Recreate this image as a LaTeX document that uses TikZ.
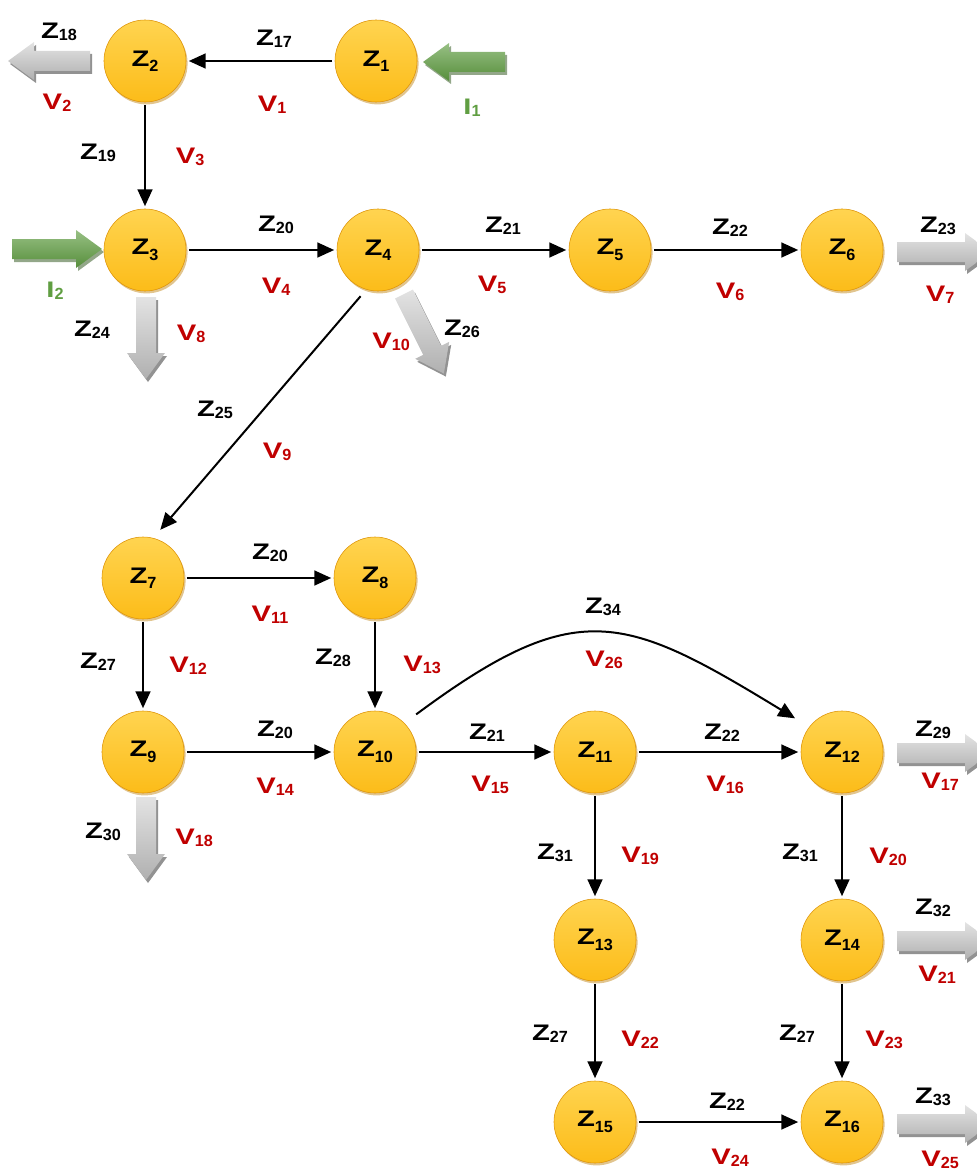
\documentclass[tikz,border=0pt]{standalone}
\usepackage{fontspec}
\setmainfont{Liberation Sans}
\usepackage{graphicx}
\usetikzlibrary{arrows.meta, positioning, shadows}

\definecolor{zgold}{RGB}{252,188,25}
\definecolor{zgoldlight}{RGB}{255,212,80}
\definecolor{zgolddark}{RGB}{222,148,8}
\definecolor{vred}{RGB}{192,0,0}
\definecolor{igreen}{RGB}{96,158,66}

% stretched letter with a lowered index
\newcommand{\lbl}[2]{\scalebox{1.3}[1]{#1}\raisebox{-0.2ex}{\fontsize{11.5}{11.5}\selectfont #2}}
\newcommand{\nlbl}[2]{\scalebox{1.3}[1]{#1}\raisebox{-0.45ex}{\fontsize{11.5}{11.5}\selectfont #2}}

% block arrow: style, tail point, angle, length (in px units)
\newcommand{\blockarrow}[4]{%
  \begin{scope}[shift={#2}, shift={(2,3)}, rotate=#3]
    \fill[#1 shadow] (0,-10) -- ({#4-26},-10) -- ({#4-26},-19) -- (#4,0)
      -- ({#4-26},19) -- ({#4-26},10) -- (0,10) -- cycle;
  \end{scope}
  \begin{scope}[shift={#2}, rotate=#3]
    \shade[#1] (0,-10) -- ({#4-26},-10) -- ({#4-26},-19) -- (#4,0)
      -- ({#4-26},19) -- ({#4-26},10) -- (0,10) -- cycle;
  \end{scope}}

\tikzset{
  zball/.style={circle, minimum size=2.05cm, inner sep=0pt, outer sep=0.07cm,
    top color=zgoldlight, bottom color=zgold, draw=zgolddark, line width=0.4pt,
    drop shadow={shadow xshift=0.04cm, shadow yshift=-0.06cm,
      fill=zgolddark!85!black, opacity=0.45},
    font=\fontsize{16}{16}\selectfont\bfseries},
  conn/.style={-{Triangle[length=0.42cm, width=0.37cm]}, line width=0.05cm},
  zlab/.style={font=\fontsize{16}{16}\selectfont\bfseries, inner sep=0pt},
  vlab/.style={zlab, text=vred},
  ilab/.style={zlab, text=igreen},
  gfill/.style={top color=gray!22, bottom color=gray!62},
  gfill shadow/.style={fill=gray!45!black, opacity=0.55},
  ifill/.style={top color=igreen!65!white, bottom color=igreen!90!black},
  ifill shadow/.style={fill=igreen!60!black, opacity=0.55}
}

\begin{document}
\begin{tikzpicture}[x=0.025cm, y=-0.025cm]
  \useasboundingbox (0,0) rectangle (977,1170);
  \clip (0,0) rectangle (977,1170);

  % flows in and out
  \blockarrow{gfill}{(90,61)}{180}{82}
  \blockarrow{ifill}{(505,62)}{180}{82}
  \blockarrow{ifill}{(12,249)}{0}{90}
  \blockarrow{gfill}{(146,297)}{-90}{82}
  \blockarrow{gfill}{(404,294)}{-63.4}{89}
  \blockarrow{gfill}{(897,252)}{0}{94}
  \blockarrow{gfill}{(897,753)}{0}{94}
  \blockarrow{gfill}{(897,941)}{0}{94}
  \blockarrow{gfill}{(897,1124)}{0}{94}
  \blockarrow{gfill}{(146,797)}{-90}{83}

  % stages
  \foreach \n/\x/\y in {1/376/61, 2/145/61, 3/145/250, 4/378/250, 5/610/250,
      6/842/250, 7/143/578, 8/375/578, 9/143/752, 10/375/752, 11/595/752,
      12/842/752, 13/595/940, 14/842/940, 15/595/1122, 16/842/1122}
    \node[zball] (z\n) at (\x,\y) {\nlbl{Z}{\n}};

  % streams
  \draw[conn] (z1) -- (z2);
  \draw[conn] (z2) -- (z3);
  \draw[conn] (z3) -- (z4);
  \draw[conn] (z4) -- (z5);
  \draw[conn] (z5) -- (z6);
  \draw[conn, shorten <=0.15cm, shorten >=0.2cm] (z4.252) -- (z7.74);
  \draw[conn] (z7) -- (z8);
  \draw[conn] (z7) -- (z9);
  \draw[conn] (z8) -- (z10);
  \draw[conn] (z9) -- (z10);
  \draw[conn] (z10) -- (z11);
  \draw[conn] (z11) -- (z12);
  \draw[conn, shorten <=0.3cm, shorten >=0.35cm] (z10.44)
    .. controls (577,595) and (624,614) .. (z12.143);
  \draw[conn] (z11) -- (z13);
  \draw[conn] (z12) -- (z14);
  \draw[conn] (z13) -- (z15);
  \draw[conn] (z14) -- (z16);
  \draw[conn] (z15) -- (z16);

  % stream names
  \foreach \m/\t/\x/\y in {17/17/274/39, 18/18/59/32, 19/19/98/153,
      20a/20/276/225, 21a/21/503/226, 22a/22/730/228, 23/23/938/226,
      24/24/92/330, 25/25/215/410, 26/26/462/329, 20b/20/270/553,
      27a/27/98/662, 28/28/333/658, 34/34/603/607, 20c/20/275/730,
      21b/21/487/733, 22b/22/722/733, 29/29/933/730, 30/30/103/832,
      31a/31/555/853, 31b/31/800/853, 32/32/933/908, 27b/27/550/1034,
      27c/27/797/1034, 22c/22/727/1102, 33/33/933/1097}
    \node[zlab] (zt\m) at (\x,\y) {\lbl{Z}{\t}};

  % stream values
  \foreach \t/\x/\y in {1/272/105, 2/57/103, 3/190/157, 4/276/287, 5/492/285,
      6/730/292, 7/940/295, 8/191/334, 9/277/452, 10/391/342, 11/270/615,
      12/188/666, 13/422/665, 14/275/787, 15/490/785, 16/725/785,
      17/940/782, 18/194/838, 19/640/856, 20/888/857, 21/937/975,
      22/640/1040, 23/884/1040, 24/730/1158, 25/940/1160, 26/604/660}
    \node[vlab] (vt\t) at (\x,\y) {\lbl{V}{\t}};

  % inputs
  \node[ilab] (it1) at (472,108) {\lbl{I}{1}};
  \node[ilab] (it2) at (55,291) {\lbl{I}{2}};
\end{tikzpicture}
\end{document}
